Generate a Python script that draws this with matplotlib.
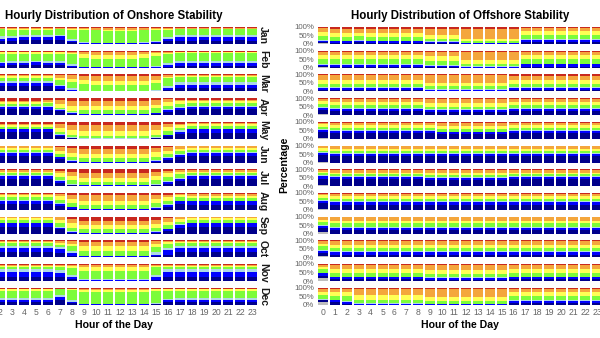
import matplotlib
matplotlib.use('Agg')
import matplotlib.pyplot as plt
import numpy as np

plt.rcParams['font.family'] = ['Liberation Sans', 'DejaVu Sans']

months = ['Jan', 'Feb', 'Mar', 'Apr', 'May', 'Jun', 'Jul', 'Aug', 'Sep', 'Oct', 'Nov', 'Dec']
hours = list(range(24))
classes = ['NA', 'Very stable', 'Stable', 'Weakly stable', 'Neutral',
           'Weakly unstable', 'Unstable', 'Very unstable']
class_colors = ['#BEBEBE', '#00008B', '#0000FF', '#ADD8E6', '#7CFC3A',
                '#FFFF55', '#F4A63C', '#C8281E']
pct_ticks = [0, 0.5, 1.0]
pct_labels = ['0%', '50%', '100%']

# each token: shares (base-36 digits) of the classes above, bottom -> top, one token per hour
on_jan = "04329011 04329011 03339011 04328111 05327111 05327111 05327111 05427011 0222b111 0011f111 0010f121 0010e221 0010e221 0010e221 0011e121 0112d111 03329111 04428011 04428011 05327011 04428011 04428011 05327011 04428011"
on_feb = "02329211 02329211 02329211 03328211 03328211 03418211 03328211 03328211 0112c121 0010a531 00109541 00109541 00109541 00109541 0010a531 0011c321 0123a121 02339111 02339111 02339111 02339111 02339111 02339111 02339111"
on_mar = "05425211 05425211 06424211 06424211 06424211 06424211 06424211 03325331 01127441 00108452 00107462 00107462 00107462 00107462 00107462 00118442 0222a121 04436111 04436111 04436111 04436111 04436111 04436111 04436111"
on_apr = "07312223 07312223 07312223 07312223 07312223 07312223 06313222 04112442 01112563 00105563 00105563 00105563 00105563 00105563 00105563 01115462 03213431 06223322 07313222 07313222 07313222 07313222 07313222 07313222"
on_may = "08312222 08312222 08312222 08312222 08312222 08312222 08312222 03212552 01012664 00012674 00012674 00012674 00012674 00012674 00012674 01013564 03114542 06223322 07413221 07413221 07413221 07413221 07413221 07413221"
on_jun = "08313221 08313221 08313221 08313221 08313221 08313221 08313221 04213442 01113563 00104564 00104564 00104564 00104564 00104564 00104564 01114553 03214442 06313331 08313221 08313221 08313221 08313221 08313221 08313221"
on_jul = "08412221 08412221 08412221 08412221 08412221 08412221 08412221 04214432 01114553 00104564 00104564 00104564 00104564 00104564 00104564 01114553 03215432 06314321 08412221 08412221 08412221 08412221 08412221 08412221"
on_aug = "07323221 07323221 07323221 07323221 07323221 07323221 07323221 05214431 01214552 00105563 00105563 00105563 00105563 00105563 00105563 01115552 04214432 07314221 06413231 06413231 06413231 06413231 06413231 06413231"
on_sep = "08413211 08413211 08413211 08413211 08413211 08413211 08413211 05214431 01114553 00105455 00105455 00105455 00105455 00105455 00105455 01114454 03214442 07313321 08413211 08413211 08413211 08413211 08413211 08413211"
on_oct = "06624111 06624111 06624111 06624111 06624111 06624111 06624111 05523221 02326331 00107552 00107552 00107552 00107552 00107552 00107552 01236431 03625211 06624111 06624111 06624111 06624111 06624111 06624111 06624111"
on_nov = "05633111 05633111 05633111 05633111 05633111 05633111 05633111 05533211 02328211 0011a431 0011a431 0011a431 0011a431 0011a431 0011a431 0142a211 05633111 05633111 05633111 05633111 05633111 05633111 05633111 05633111"
on_dec = "03328211 03328211 03328211 03328211 03328211 03328211 03328211 06327011 0212c111 0010e221 0010e221 0010e221 0010e221 0010e221 0010e221 0101e211 03229211 03328211 03328211 03328211 03328211 03328211 03328211 03328211"

off_jan = "11214551 01214552 01214552 02214452 01214552 01214552 01214552 01214552 01214552 01113572 01113572 01113572 001023b2 001023b2 001023b2 001023b2 001023b2 02315441 02315441 02315441 02315441 02315441 02315441 02315441"
off_feb = "11116541 01216541 01216541 01216541 01216541 01216541 01216541 01216541 01216541 01115651 01115651 01115651 00113592 00113592 00113592 00113592 00113592 01316541 01316541 01316541 01316541 01316541 01316541 01316541"
off_mar = "11214461 02214461 02214461 02214461 02214461 02214461 02214461 02214461 02214461 01113491 01113491 01113491 01113491 01113491 01113491 01113491 02214452 02214452 02214452 02214452 02214452 02214452 02214452 02214452"
off_apr = "15214331 05214341 05214341 05214341 05214341 05214341 05214341 05214341 05214341 04213451 04213451 04213451 04213451 04213451 04213451 04213451 05214341 05214341 05214341 05214341 05214341 05214341 05214341 05214341"
off_may = "17213321 07213331 07213331 07213331 07213331 07213331 07213331 07213331 07213331 07213331 06213441 06213441 06213441 06213441 06213441 06213441 07213331 07213331 07213331 07213331 07213331 07213331 07213331 07213331"
off_jun = "18212321 08212331 08212331 08212331 08212331 08212331 08212331 08212331 08212331 08212331 08212331 08212331 08212331 08212331 08212331 08212331 08212331 08212331 08212331 08212331 08212331 08212331 08212331 08212331"
off_jul = "18312221 08312231 08312231 08312231 08312231 08312231 08312231 08312231 08312231 07312331 07312331 07312331 07312331 07312331 07312331 07312331 08312231 08312231 08312231 08312231 08312231 08312231 08312231 08312231"
off_aug = "17313321 06313331 06313331 06313331 06313331 06313331 06313331 06313331 06313331 06313331 06313331 06313331 06313331 06313331 06313331 06313331 06313331 06313331 06313331 06313331 06313331 06313331 06313331 06313331"
off_sep = "25314331 04314341 04314341 04314341 04314341 04314341 04314341 04314341 04314341 04314341 04314341 04314341 04314341 04314341 04314341 04314341 04314341 04314341 04314341 04314341 04314341 04314341 04314341 04314341"
off_oct = "23314331 03314441 03314441 03314441 03314441 03314441 03314441 03314441 03314441 03314441 03314441 03314441 03314441 03314441 03314441 03314441 03314441 03314441 03314441 03314441 03314441 03314441 03314441 03314441"
off_nov = "33314231 02214451 02214451 02214451 02214451 02214451 02214451 02214451 02214451 01214461 01214461 01214461 01214461 01214461 01214461 01214461 02214451 02214451 02214451 02214451 02214451 02214451 02214451 02214451"
off_dec = "32115341 03214541 01216541 00114581 00114581 00114581 00114581 00114581 00114581 00103592 00103592 00103592 00103592 00103592 00103592 00103592 02215541 02215541 02215541 02215541 02215541 02215541 02215541 02215541"

onshore = [on_jan, on_feb, on_mar, on_apr, on_may, on_jun, on_jul, on_aug, on_sep, on_oct, on_nov, on_dec]
offshore = [off_jan, off_feb, off_mar, off_apr, off_may, off_jun, off_jul, off_aug, off_sep, off_oct, off_nov, off_dec]


def parse(s):
    rows = []
    for tok in s.split():
        v = np.array([int(c, 36) for c in tok], dtype=float)
        rows.append(v / v.sum())
    return np.array(rows)  # 24 x n_classes


W, H = 600.0, 338.0
ROW0, ROWSTEP, BARH = 27.0, 23.7, 17.0


def rect(x0, x1, ytop, ybot):
    return [x0 / W, 1 - ybot / H, (x1 - x0) / W, (ybot - ytop) / H]


fig = plt.figure(figsize=(6.0, 3.38), dpi=100)
fig.patch.set_facecolor('white')

panels = [
    (onshore, -30.0, 258.0, True, False, 'Hourly Distribution of Onshore Stability'),
    (offshore, 317.0, 603.0, False, True, 'Hourly Distribution of Offshore Stability'),
]
tick_color = '#666666'
for data, x0, x1, strips, ylabels, title in panels:
    for i, m in enumerate(months):
        v100 = ROW0 + ROWSTEP * i
        ax = fig.add_axes(rect(x0, x1, v100 - 0.05 * BARH, v100 + 1.05 * BARH))
        shares = parse(data[i])
        bottom = np.zeros(24)
        for k in range(len(classes)):
            ax.bar(hours, shares[:, k], bottom=bottom, width=0.84,
                   color=class_colors[k], linewidth=0)
            bottom += shares[:, k]
        ax.set_xlim(-0.5, 23.5)
        ax.set_ylim(-0.05, 1.05)
        for sp in ax.spines.values():
            sp.set_visible(False)
        ax.tick_params(length=0, colors=tick_color, labelsize=5.7, pad=2)
        ax.set_yticks(pct_ticks)
        if ylabels:
            ax.set_yticklabels(pct_labels)
        else:
            ax.set_yticklabels([])
        ax.set_xticks(hours)
        if i == len(months) - 1:
            ax.set_xticklabels([str(h) for h in hours], fontsize=6.2)
        else:
            ax.set_xticklabels([])
        if strips:
            ax.text(1.0, 0.5, m, transform=ax.transAxes, rotation=-90,
                    ha='left', va='center', fontsize=7.5, fontweight='bold',
                    color='#1A1A1A')
        for lab in ax.get_xticklabels() + ax.get_yticklabels():
            lab.set_color(tick_color)
    cx = (x0 + x1) / 2 / W
    fig.text(cx, 1 - 16.5 / H, title, ha='center', va='center',
             fontsize=8.3, fontweight='bold')
    fig.text(cx, 1 - 325.5 / H, 'Hour of the Day', ha='center', va='center',
             fontsize=7.6, fontweight='bold')

fig.text(284.5 / W, 1 - 165 / H, 'Percentage', rotation=90, ha='center',
         va='center', fontsize=7.6, fontweight='bold')

fig.savefig('out.png', dpi=100, facecolor='white')
